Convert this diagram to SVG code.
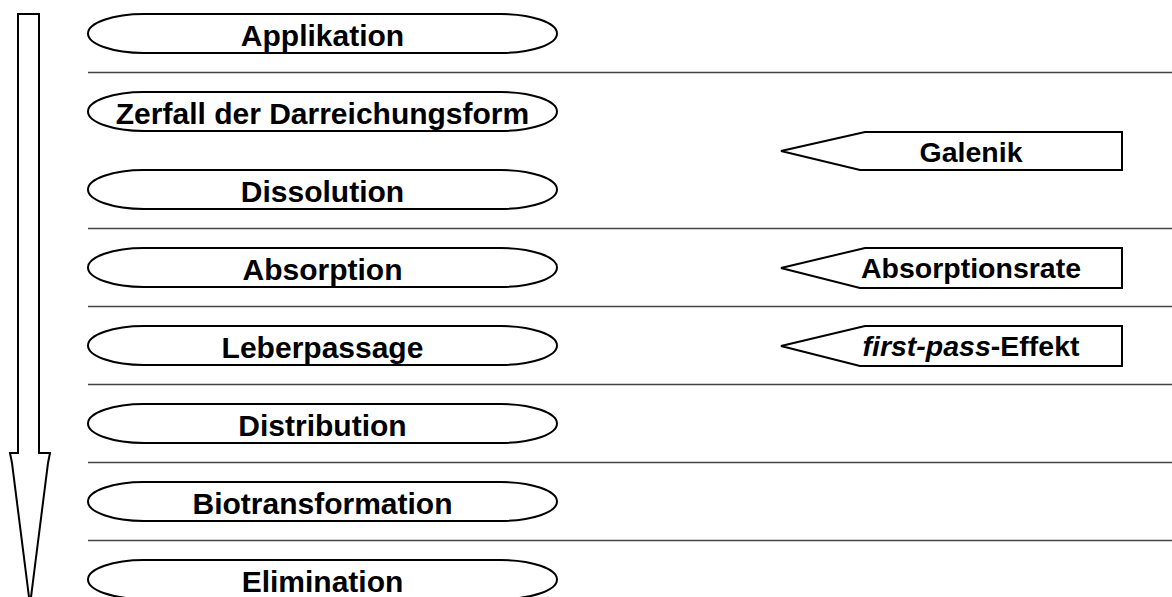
<svg xmlns="http://www.w3.org/2000/svg" width="1172" height="597" viewBox="0 0 1172 597">
<style>
.el{fill:#fff;stroke:#000;stroke-width:2}
.sep{stroke:#444;stroke-width:1.4}
.tag{fill:#fff;stroke:#000;stroke-width:2;stroke-linejoin:miter}
.t{font-family:"Liberation Sans",Arial,sans-serif;font-weight:bold;font-size:30px;text-anchor:middle;fill:#000}
.tr{font-family:"Liberation Sans",Arial,sans-serif;font-weight:bold;font-size:28.5px;text-anchor:middle;fill:#000}
</style>
<rect width="1172" height="597" fill="#fff"/>
<g id="connectors">
<line class="sep" x1="88" y1="72.5" x2="1172" y2="72.5"/>
<line class="sep" x1="88" y1="228.5" x2="1172" y2="228.5"/>
<line class="sep" x1="88" y1="306.5" x2="1172" y2="306.5"/>
<line class="sep" x1="88" y1="384.5" x2="1172" y2="384.5"/>
<line class="sep" x1="88" y1="462.5" x2="1172" y2="462.5"/>
<line class="sep" x1="88" y1="540.5" x2="1172" y2="540.5"/>
<polygon id="flow-arrow" class="tag" points="18,14 39,14 39,453 50,453 48,463 30,605 12,463 10,453 18,453"/>
</g>
<g id="applikation"><rect class="el" x="88" y="14" width="469" height="39" rx="56" ry="19.5"/><text class="t" x="322.5" y="46">Applikation</text></g>
<g id="zerfall"><rect class="el" x="88" y="92" width="469" height="39" rx="56" ry="19.5"/><text class="t" x="322.5" y="124">Zerfall der Darreichungsform</text></g>
<g id="dissolution"><rect class="el" x="88" y="170" width="469" height="39" rx="56" ry="19.5"/><text class="t" x="322.5" y="202">Dissolution</text></g>
<g id="absorption"><rect class="el" x="88" y="248" width="469" height="39" rx="56" ry="19.5"/><text class="t" x="322.5" y="280">Absorption</text></g>
<g id="leberpassage"><rect class="el" x="88" y="326" width="469" height="39" rx="56" ry="19.5"/><text class="t" x="322.5" y="358">Leberpassage</text></g>
<g id="distribution"><rect class="el" x="88" y="404" width="469" height="39" rx="56" ry="19.5"/><text class="t" x="322.5" y="436">Distribution</text></g>
<g id="biotransformation"><rect class="el" x="88" y="482" width="469" height="39" rx="56" ry="19.5"/><text class="t" x="322.5" y="514">Biotransformation</text></g>
<g id="elimination"><rect class="el" x="88" y="560" width="469" height="39" rx="56" ry="19.5"/><text class="t" x="322.5" y="592">Elimination</text></g>
<g id="galenik"><polygon class="tag" points="781,151 865,132 1122,132 1122,170 860,170"/><text class="tr" x="971" y="162">Galenik</text></g>
<g id="absorptionsrate"><polygon class="tag" points="781,268 865,248 1122,248 1122,288 860,288"/><text class="tr" x="971" y="278">Absorptionsrate</text></g>
<g id="first-pass"><polygon class="tag" points="781,346 865,326 1122,326 1122,366 860,366"/><text class="tr" x="971" y="356"><tspan font-style="italic">first-pass</tspan>-Effekt</text></g>
</svg>
